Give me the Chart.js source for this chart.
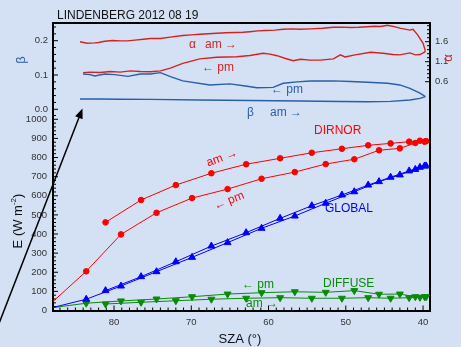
<!DOCTYPE html>
<html><head><meta charset="utf-8">
<script src="https://cdn.jsdelivr.net/npm/chart.js@4.4.0/dist/chart.umd.min.js"></script>
<style>html,body{margin:0;padding:0;background:#d4e1f5;}canvas{display:block;}</style>
</head><body>
<canvas id="c" width="461" height="347"></canvas>
<script>
// ---------- data ----------
const chartTitle = 'LINDENBERG 2012 08 19';
// top panel: Angstrom alpha (right axis) and beta (left axis)
const alphaAmSza = [84.4,83.5,82.5,82.0,81.2,80.2,79.2,78.3,77.3,76.2,75.3,74.0,72.5,71.1,70.0,68.9,66.7,65.5,64.3,63.3,62.4,61.4,60.4,59.2,58.1,57.0,55.9,54.6,53.0,51.6,50.5,49.4,48.3,47.2,46.3,45.5,44.6,43.6,43.0,41.7,41.3,40.7,40.0,39.8,39.7];
const alphaAm    = [1.60,1.56,1.57,1.58,1.61,1.63,1.62,1.62,1.64,1.66,1.68,1.68,1.72,1.755,1.77,1.785,1.81,1.825,1.83,1.835,1.85,1.87,1.88,1.89,1.91,1.92,1.91,1.92,1.935,1.96,1.965,1.955,1.96,1.975,1.985,1.98,2.01,1.97,1.94,1.89,1.91,1.77,1.56,1.435,1.35];
const alphaPmSza = [84.0,83.1,81.8,80.5,79.2,77.9,76.6,75.3,74.0,72.7,71.1,68.9,66.7,64.1,62.4,60.7,59.8,58.9,57.8,56.8,55.9,54.6,53.3,51.6,50.7,50.1,48.8,46.8,45.2,43.9,43.0,41.7,41.0,40.4,39.8,39.7];
const alphaPm    = [0.825,0.84,0.83,0.855,0.84,0.87,0.855,0.85,0.87,0.94,1.06,1.17,1.21,1.225,1.255,1.31,1.29,1.25,1.18,1.125,1.16,1.14,1.14,1.17,1.27,1.22,1.27,1.335,1.31,1.28,1.27,1.32,1.27,1.28,1.34,1.35];
const betaPmSza  = [84.0,83.1,82.5,81.2,79.9,78.2,76.6,75.3,74.0,72.7,71.1,67.6,65.0,63.0,61.5,59.4,58.1,56.3,54.6,51.6,49.4,47.2,44.6,43.0,41.7,40.4,39.7];
const betaPm     = [0.103,0.101,0.097,0.103,0.101,0.096,0.103,0.103,0.107,0.095,0.083,0.071,0.074,0.068,0.063,0.064,0.076,0.080,0.0825,0.083,0.081,0.079,0.076,0.071,0.061,0.047,0.037];
const betaAmSza  = [84.4,81.8,79.2,75.3,68.9,62.4,55.9,50.7,47.2,44.2,41.7,40.4,39.7];
const betaAm     = [0.030,0.030,0.0295,0.029,0.027,0.0257,0.024,0.0227,0.022,0.023,0.027,0.032,0.037];
// bottom panel: irradiances (W m-2)
const szaAm = [81.1,76.5,72.0,67.4,62.9,58.5,54.4,50.5,47.1,44.2,41.8,40.4,39.8];
const szaPm = [88.5,83.6,79.1,74.5,69.9,65.3,60.9,56.6,52.6,48.9,45.7,43.0,41.0,39.6];
const dirnorAm  = [461,578,656,718,765,796,825,846,864,874,883,888,883];
const dirnorPm  = [25,205,398,511,588,635,689,724,766,791,838,848,876,886];
const globalAm  = [104,177,255,337,407,482,548,604,656,697,730,749,756];
const globalPm  = [10,59,128,203,278,355,430,494,561,621,674,709,738,756];
const diffuseAm = [34,43,51,59,64,67,64,64,67,64,67,69,72];
const diffusePm = [12,38,50,60,72,86,93,98,95,104,85,86,72,72];
// tick labels
const xTicks = [80,70,60,50,40];
const eTicks = [0,100,200,300,400,500,600,700,800,900,1000];
const betaTicks = [0.0,0.1,0.2];
const alphaTicks = [0.6,1.1,1.6];

// ---------- styles ----------
const BG = '#d4e1f5';
const RED_TOP = '#d42222', BLUE_TOP = '#2a5ea8';
const RED = '#ff0000', BLUE = '#0000ff', GREEN = '#0a8a0a';
const FONT = '"Liberation Sans", Arial, sans-serif';
Chart.defaults.font.family = FONT;

const pts = (xs, ys) => xs.map((x, i) => ({x: x, y: ys[i]}));
function lineDS(xs, ys, color, yAxisID, extra) {
  return Object.assign({data: pts(xs, ys), showLine: true, borderColor: color, backgroundColor: color,
    borderWidth: 1, pointRadius: 0, tension: 0, yAxisID: yAxisID, xAxisID: 'x'}, extra || {});
}

const datasets = [
  lineDS(alphaAmSza, alphaAm, RED_TOP, 'yA', {borderWidth: 1.4}),
  lineDS(alphaPmSza, alphaPm, RED_TOP, 'yA', {borderWidth: 1.4}),
  lineDS(betaAmSza, betaAm, BLUE_TOP, 'yB', {borderWidth: 1.4}),
  lineDS(betaPmSza, betaPm, BLUE_TOP, 'yB', {borderWidth: 1.4}),
  lineDS(szaAm, dirnorAm, RED, 'yE', {pointRadius: 2.8, pointStyle: 'circle'}),
  lineDS(szaPm, dirnorPm, RED, 'yE', {pointRadius: 2.8, pointStyle: 'circle'}),
  lineDS(szaAm, globalAm, BLUE, 'yE', {pointRadius: 4, pointStyle: 'triangle'}),
  lineDS(szaPm, globalPm, BLUE, 'yE', {pointRadius: 4, pointStyle: 'triangle'}),
  lineDS(szaAm, diffuseAm, GREEN, 'yE', {pointRadius: 4, pointStyle: 'triangle', pointRotation: 180}),
  lineDS(szaPm, diffusePm, GREEN, 'yE', {pointRadius: 4, pointStyle: 'triangle', pointRotation: 180})
];

const axisCommon = {
  grid: {display: true, drawOnChartArea: false, drawTicks: false},
  border: {display: true, color: '#000', width: 2}
};
const tickFont = {size: 9.5};

// ---------- plugins ----------
const bgPlugin = {id: 'bg', beforeDraw(c) { const x = c.ctx; x.save(); x.fillStyle = BG; x.fillRect(0, 0, c.width, c.height); x.restore(); }};

function inTicks(ctx, scale, values, len, dir) {
  const ca = scale.chart.chartArea;
  ctx.beginPath();
  values.forEach(v => {
    if (v < scale.min || v > scale.max) return;
    const p = scale.getPixelForValue(v);
    if (dir === 'left') { ctx.moveTo(ca.left, p); ctx.lineTo(ca.left + len, p); }
    else if (dir === 'right') { ctx.moveTo(ca.right, p); ctx.lineTo(ca.right - len, p); }
    else { ctx.moveTo(p, ca.bottom); ctx.lineTo(p, ca.bottom - len); }
  });
  ctx.stroke();
}
function range(a, b, step, skip) {
  const out = [];
  for (let i = 0; a + i * step <= b + 1e-9; i++) {
    const v = +(a + i * step).toFixed(4);
    if (!skip.some(s => Math.abs(s - v) < 1e-6)) out.push(v);
  }
  return out;
}

const decorPlugin = {
  id: 'decor',
  afterDraw(c) {
    const ctx = c.ctx, ca = c.chartArea, s = c.scales;
    ctx.save();
    // top frame line
    ctx.strokeStyle = '#000'; ctx.lineWidth = 2;
    ctx.beginPath(); ctx.moveTo(ca.left - 1, ca.top); ctx.lineTo(ca.right + 1, ca.top); ctx.stroke();
    // inward ticks
    ctx.lineWidth = 1;
    inTicks(ctx, s.x, xTicks, 5, 'bottom');
    inTicks(ctx, s.x, range(40, 87, 1, xTicks), 3, 'bottom');
    inTicks(ctx, s.yE, eTicks, 5, 'left');
    inTicks(ctx, s.yE, range(0, 1020, 20, eTicks), 3, 'left');
    inTicks(ctx, s.yB, betaTicks, 5, 'left');
    inTicks(ctx, s.yB, range(0, 0.24, 0.02, betaTicks), 3, 'left');
    inTicks(ctx, s.yA, alphaTicks, 5, 'right');
    inTicks(ctx, s.yA, range(0.7, 2.0, 0.1, alphaTicks), 3, 'right');

    // title
    ctx.fillStyle = '#111'; ctx.font = '12px ' + FONT; ctx.textBaseline = 'middle'; ctx.textAlign = 'left';
    ctx.fillText(chartTitle, 57, 15.5);

    // axis titles
    ctx.fillStyle = '#111'; ctx.font = '13px ' + FONT; ctx.textAlign = 'center'; ctx.textBaseline = 'alphabetic';
    ctx.fillText('SZA (°)', 240, 343);
    // E (W m-2) rotated
    ctx.save();
    ctx.translate(22, 221); ctx.rotate(-Math.PI / 2);
    const p1 = 'E (W m', sup = '-2', p3 = ')';
    ctx.font = '13px ' + FONT; const w1 = ctx.measureText(p1).width, w3 = ctx.measureText(p3).width;
    ctx.font = '8px ' + FONT; const w2 = ctx.measureText(sup).width;
    let x0 = -(w1 + w2 + w3) / 2;
    ctx.textAlign = 'left';
    ctx.font = '13px ' + FONT; ctx.fillText(p1, x0, 0);
    ctx.font = '8px ' + FONT; ctx.fillText(sup, x0 + w1, -6);
    ctx.font = '13px ' + FONT; ctx.fillText(p3, x0 + w1 + w2, 0);
    ctx.restore();
    // beta axis label
    ctx.save(); ctx.translate(25, 60); ctx.rotate(-Math.PI / 2);
    ctx.fillStyle = BLUE_TOP; ctx.font = '13px ' + FONT; ctx.textAlign = 'center'; ctx.fillText('β', 0, 0);
    ctx.restore();
    // alpha axis label
    ctx.save(); ctx.translate(452, 58); ctx.rotate(-Math.PI / 2);
    ctx.fillStyle = RED_TOP; ctx.font = '13px ' + FONT; ctx.textAlign = 'center'; ctx.fillText('α', 0, 0);
    ctx.restore();

    // in-plot labels
    ctx.font = '12px ' + FONT; ctx.textAlign = 'left'; ctx.textBaseline = 'middle';
    ctx.fillStyle = RED_TOP;
    ctx.fillText('α', 189, 45); ctx.fillText('am →', 205, 45);
    ctx.fillText('← pm', 202, 68);
    ctx.fillStyle = BLUE_TOP;
    ctx.fillText('← pm', 271, 90);
    ctx.fillText('β', 247, 113); ctx.fillText('am →', 270, 113);
    ctx.fillStyle = RED; ctx.fillText('DIRNOR', 314, 131);
    ctx.fillStyle = BLUE; ctx.fillText('GLOBAL', 325, 209);
    ctx.fillStyle = GREEN; ctx.fillText('DIFFUSE', 323, 284);
    ctx.fillText('← pm', 242, 285);
    ctx.fillText('am →', 246, 304);
    ctx.fillStyle = RED; ctx.textAlign = 'center';
    ctx.save(); ctx.translate(222, 158); ctx.rotate(-20 * Math.PI / 180); ctx.fillText('am →', 0, 0); ctx.restore();
    ctx.save(); ctx.translate(229, 201); ctx.rotate(-22 * Math.PI / 180); ctx.fillText('← pm', 0, 0); ctx.restore();

    // arrow
    const ax0 = -2, ay0 = 326, ax1 = 82.5, ay1 = 108.5;
    ctx.strokeStyle = '#000'; ctx.fillStyle = '#000'; ctx.lineWidth = 1.5;
    const ang = Math.atan2(ay1 - ay0, ax1 - ax0);
    ctx.beginPath(); ctx.moveTo(ax0, ay0); ctx.lineTo(ax1 - 7 * Math.cos(ang), ay1 - 7 * Math.sin(ang)); ctx.stroke();
    ctx.beginPath();
    ctx.moveTo(ax1, ay1);
    ctx.lineTo(ax1 - 10 * Math.cos(ang) + 4 * Math.sin(ang), ay1 - 10 * Math.sin(ang) - 4 * Math.cos(ang));
    ctx.lineTo(ax1 - 10 * Math.cos(ang) - 4 * Math.sin(ang), ay1 - 10 * Math.sin(ang) + 4 * Math.cos(ang));
    ctx.closePath(); ctx.fill();
    ctx.restore();
  }
};

new Chart(document.getElementById('c'), {
  type: 'scatter',
  data: {datasets: datasets},
  plugins: [bgPlugin, decorPlugin],
  options: {
    responsive: false, animation: false, devicePixelRatio: 1,
    layout: {padding: {top: 23, left: 0, right: 0, bottom: 0}},
    plugins: {legend: {display: false}, tooltip: {enabled: false}, title: {display: false}},
    scales: {
      x: Object.assign({}, axisCommon, {
        type: 'linear', position: 'bottom', reverse: true, min: 39.1, max: 87.9,
        afterBuildTicks: sc => { sc.ticks = xTicks.map(v => ({value: v})); },
        afterFit: sc => { sc.height = 36.5; },
        ticks: {padding: 6, color: '#333', font: tickFont, maxRotation: 0, autoSkip: false, callback: v => String(v)}
      }),
      yE: Object.assign({}, axisCommon, {
        type: 'linear', position: 'left', stack: 'L', stackWeight: 196.5, min: 0, max: 1027.7,
        afterBuildTicks: sc => { sc.ticks = eTicks.map(v => ({value: v})); },
        afterFit: sc => { sc.width = 53; },
        ticks: {padding: 6, color: '#333', font: tickFont, autoSkip: false, callback: v => String(v)}
      }),
      yB: Object.assign({}, axisCommon, {
        type: 'linear', position: 'left', stack: 'L', stackWeight: 91, min: -0.0137, max: 0.2516,
        afterBuildTicks: sc => { sc.ticks = betaTicks.map(v => ({value: v})); },
        afterFit: sc => { sc.width = 53; },
        ticks: {padding: 5, color: '#333', font: tickFont, autoSkip: false, callback: v => v.toFixed(1)}
      }),
      yA: Object.assign({}, axisCommon, {
        type: 'linear', position: 'right', min: -5.12, max: 2.0675,
        afterBuildTicks: sc => { sc.ticks = alphaTicks.map(v => ({value: v})); },
        afterFit: sc => { sc.width = 31; },
        ticks: {padding: 5, color: '#333', font: tickFont, autoSkip: false, callback: v => v.toFixed(1)}
      })
    }
  }
});
</script>
</body></html>
